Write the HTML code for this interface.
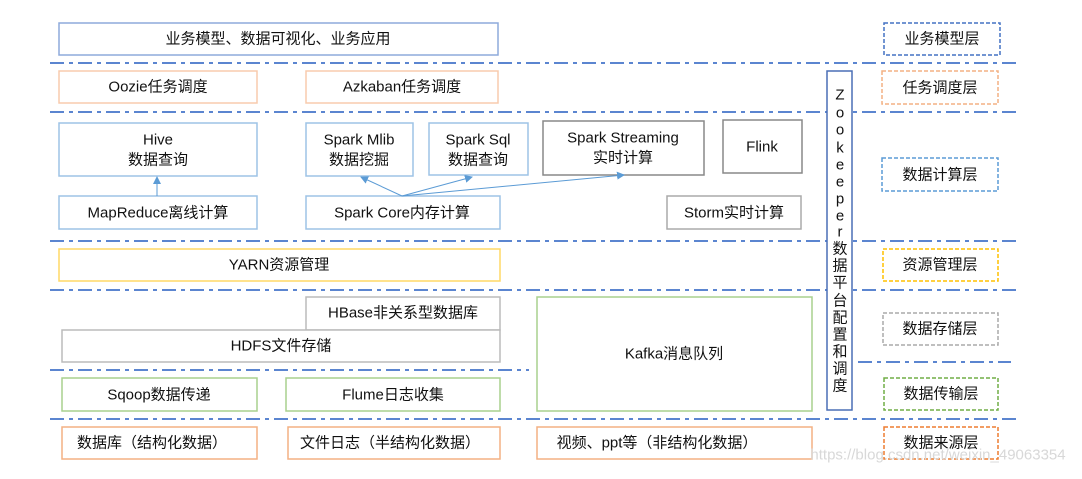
<!DOCTYPE html>
<html><head><meta charset="utf-8"><style>
html,body{margin:0;padding:0;background:#fff;}
svg text{font-family:"Liberation Sans","Noto Sans CJK SC",sans-serif;font-size:15px;fill:#111;text-anchor:middle;dominant-baseline:central;}
</style></head><body>
<svg width="1082" height="474" viewBox="0 0 1082 474" xmlns="http://www.w3.org/2000/svg">
<defs><marker id="ah" markerWidth="8" markerHeight="8" refX="7" refY="4" orient="auto" markerUnits="userSpaceOnUse"><path d="M0,0 L8,4 L0,8 z" fill="#5b9bd5"/></marker></defs>
<g stroke="#5b85d0" stroke-width="2" stroke-dasharray="14 5 4 5" fill="none">
<line x1="50" y1="63" x2="1019" y2="63"/>
<line x1="50" y1="112" x2="1019" y2="112"/>
<line x1="50" y1="241" x2="1019" y2="241"/>
<line x1="50" y1="290" x2="1019" y2="290"/>
<line x1="50" y1="370" x2="529" y2="370"/>
<line x1="858" y1="362" x2="1011" y2="362"/>
<line x1="50" y1="419" x2="1019" y2="419"/>
</g>
<g fill="#fff" stroke-width="1.5">
<rect x="59" y="23" width="439" height="32" stroke="#8eaadb"/>
<rect x="59" y="71" width="198" height="32" stroke="#f8cbad"/>
<rect x="306" y="71" width="192" height="32" stroke="#f8cbad"/>
<rect x="59" y="123" width="198" height="53" stroke="#9dc3e6"/>
<rect x="306" y="123" width="107" height="53" stroke="#9dc3e6"/>
<rect x="429" y="123" width="99" height="52" stroke="#9dc3e6"/>
<rect x="543" y="121" width="161" height="54" stroke="#888"/>
<rect x="723" y="120" width="79" height="53" stroke="#888"/>
<rect x="59" y="196" width="198" height="33" stroke="#9dc3e6"/>
<rect x="306" y="196" width="194" height="33" stroke="#9dc3e6"/>
<rect x="667" y="196" width="134" height="33" stroke="#aaa"/>
<rect x="59" y="249" width="441" height="32" stroke="#ffd966"/>
<rect x="306" y="297" width="194" height="33" stroke="#bbb"/>
<rect x="62" y="330" width="438" height="32" stroke="#bbb"/>
<rect x="537" y="297" width="275" height="114" stroke="#a9d18e"/>
<rect x="62" y="378" width="195" height="33" stroke="#a9d18e"/>
<rect x="286" y="378" width="214" height="33" stroke="#a9d18e"/>
<rect x="62" y="427" width="195" height="32" stroke="#f4b183"/>
<rect x="288" y="427" width="212" height="32" stroke="#f4b183"/>
<rect x="537" y="427" width="275" height="32" stroke="#f4b183"/>
<rect x="827" y="71" width="25" height="339" stroke="#4a6fb5"/>
</g>
<g fill="#fff" stroke-width="1.5" stroke-dasharray="4 2">
<rect x="884" y="23" width="116" height="32" stroke="#4472c4"/>
<rect x="882" y="71" width="116" height="33" stroke="#f4b183"/>
<rect x="882" y="158" width="116" height="33" stroke="#5b9bd5"/>
<rect x="883" y="249" width="115" height="32" stroke="#ffc000"/>
<rect x="883" y="313" width="115" height="32" stroke="#aaa"/>
<rect x="884" y="378" width="114" height="32" stroke="#70ad47"/>
<rect x="884" y="427" width="114" height="32" stroke="#ed7d31"/>
</g>
<g stroke="#5b9bd5" stroke-width="1" fill="none" marker-end="url(#ah)">
<line x1="157" y1="196" x2="157" y2="177"/>
<line x1="402" y1="196" x2="361" y2="177"/>
<line x1="402" y1="196" x2="472" y2="177"/>
<line x1="402" y1="196" x2="624" y2="175"/>
</g>
<text x="278" y="39">业务模型、数据可视化、业务应用</text>
<text x="158" y="87">Oozie任务调度</text>
<text x="402" y="87">Azkaban任务调度</text>
<text x="158" y="140">Hive</text><text x="158" y="160">数据查询</text>
<text x="359" y="140">Spark Mlib</text><text x="359" y="160">数据挖掘</text>
<text x="478" y="140">Spark Sql</text><text x="478" y="160">数据查询</text>
<text x="623" y="138">Spark Streaming</text><text x="623" y="158">实时计算</text>
<text x="762" y="147">Flink</text>
<text x="158" y="213">MapReduce离线计算</text>
<text x="402" y="213">Spark Core内存计算</text>
<text x="734" y="213">Storm实时计算</text>
<text x="279" y="265">YARN资源管理</text>
<text x="403" y="313">HBase非关系型数据库</text>
<text x="281" y="346">HDFS文件存储</text>
<text x="674" y="354">Kafka消息队列</text>
<text x="159" y="395">Sqoop数据传递</text>
<text x="393" y="395">Flume日志收集</text>
<text x="152" y="443">数据库（结构化数据）</text>
<text x="390" y="443">文件日志（半结构化数据）</text>
<text x="657" y="443">视频、ppt等（非结构化数据）</text>
<g style="font-size:14px">
<text x="840" y="95">Z</text><text x="840" y="113">o</text><text x="840" y="130">o</text><text x="840" y="148">k</text><text x="840" y="165">e</text><text x="840" y="182">e</text><text x="840" y="199">p</text><text x="840" y="216">e</text><text x="840" y="232">r</text>
<text x="840" y="249">数</text><text x="840" y="266">据</text><text x="840" y="283">平</text><text x="840" y="301">台</text><text x="840" y="318">配</text><text x="840" y="335">置</text><text x="840" y="352">和</text><text x="840" y="369">调</text><text x="840" y="386">度</text>
</g>
<text x="942" y="39">业务模型层</text>
<text x="940" y="88">任务调度层</text>
<text x="940" y="175">数据计算层</text>
<text x="940" y="265">资源管理层</text>
<text x="940" y="329">数据存储层</text>
<text x="941" y="394">数据传输层</text>
<text x="941" y="443">数据来源层</text>
<text x="938" y="455" style="fill:#d8d8d8;font-size:15px">https://blog.csdn.net/weixin_49063354</text>
</svg>
</body></html>
